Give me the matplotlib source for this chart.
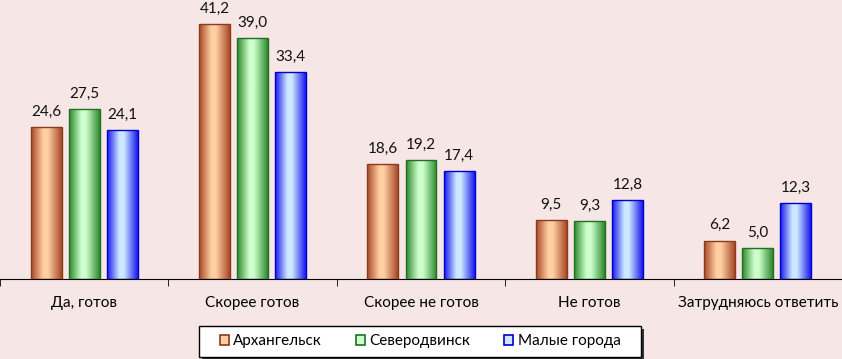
import numpy as np
import matplotlib.pyplot as plt
from matplotlib.colors import LinearSegmentedColormap
from matplotlib.patches import Rectangle

plt.rcParams['font.family'] = ['Lato', 'DejaVu Sans']

categories = ['Да, готов', 'Скорее готов', 'Скорее не готов', 'Не готов', 'Затрудняюсь ответить']
series = ['Архангельск', 'Северодвинск', 'Малые города']
arkh = [24.6, 41.2, 18.6, 9.5, 6.2]
sev = [27.5, 39.0, 19.2, 9.3, 5.0]
small = [24.1, 33.4, 17.4, 12.8, 12.3]

# (dark edge, light middle, outline)
colors = [('#a84a2a', '#ffcfa3', '#8b3a1e'),
          ('#2f8a2f', '#ccffcc', '#207020'),
          ('#1a1aee', '#cce8ff', '#0000cc')]

bg = '#f6e6e6'
W, H = 842, 359
fig = plt.figure(figsize=(W / 100, H / 100), dpi=100, facecolor=bg)
ax = fig.add_axes([0.0, 80/H, 1.0, 279/H])
ax.set_facecolor(bg)

x = np.arange(len(categories))
w = 0.184
step = 0.226
grad = np.linspace(0, 1, 64).reshape(1, -1)

for i, vals in enumerate([arkh, sev, small]):
    dark, light, edge = colors[i]
    cmap = LinearSegmentedColormap.from_list('c%d' % i, [(0, dark), (0.4, light), (0.55, light), (1, dark)])
    for j, v in enumerate(vals):
        x0 = x[j] + (i - 1) * step - w / 2
        rect = Rectangle((x0, 0), w, v, facecolor='none', edgecolor=edge, linewidth=1.0, zorder=3)
        ax.add_patch(rect)
        im = ax.imshow(grad, cmap=cmap, aspect='auto', extent=(x0, x0 + w, 0, v), zorder=2, interpolation='bilinear')
        im.set_clip_path(rect)
        ax.annotate(('%.1f' % v).replace('.', ','), (x0 + w / 2, v), xytext=(0, 6),
                    textcoords='offset points', ha='center', va='bottom', fontsize=11, color='#111111')

ax.set_xlim(-0.5, 4.5)
ax.set_ylim(0, 45.1)
for s in ['top', 'left', 'right']:
    ax.spines[s].set_visible(False)
ax.spines['bottom'].set_color('black')
ax.set_yticks([])
ax.set_xticks(x)
ax.set_xticklabels(categories, fontsize=11)
ax.tick_params(axis='x', which='major', length=0, pad=12)
ax.set_xticks(np.arange(-0.5, 5, 1), minor=True)
ax.tick_params(axis='x', which='minor', length=5, direction='out', color='black')

# legend box drawn by hand so it can be wider than the entries
bx0, by0, bw, bh = 199, 2, 442, 31
fig.patches.append(Rectangle(((bx0 + 3) / W, (by0 - 3) / H), bw / W, bh / H, transform=fig.transFigure,
                             facecolor='#333333', edgecolor='none', zorder=1))
fig.patches.append(Rectangle((bx0 / W, by0 / H), bw / W, bh / H, transform=fig.transFigure,
                             facecolor='white', edgecolor='black', linewidth=1.0, zorder=2))

handles = [Rectangle((0, 0), 1, 1, facecolor=c[1], edgecolor=c[2], linewidth=1.2) for c in colors]
leg = fig.legend(handles, series, loc='center', bbox_to_anchor=((bx0 + bw / 2) / W, (by0 + bh / 2) / H), ncol=3,
                 frameon=False, fontsize=11,
                 handlelength=0.6, handleheight=0.6, handletextpad=0.3, columnspacing=2.2,
                 borderpad=0.2, borderaxespad=0)
leg.set_zorder(5)

fig.savefig('out.png', dpi=100, facecolor=bg)
